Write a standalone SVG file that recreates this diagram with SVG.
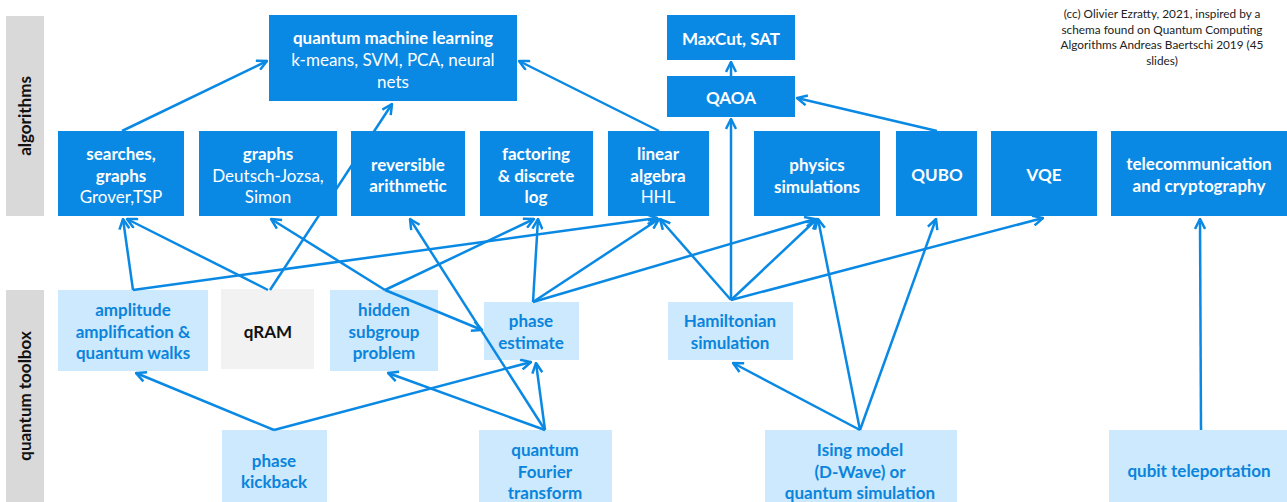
<svg xmlns="http://www.w3.org/2000/svg" width="1287" height="502" viewBox="0 0 1287 502">
<defs>
<style>
.side{fill:#d9d9d9}
.sidet{font-family:Lato,"Liberation Sans",sans-serif;font-weight:bold;font-size:17px;fill:#111;text-anchor:middle}
.dk{fill:#0a89e4}
.lt{fill:#cce9fd}
.gr{fill:#f2f2f2}
.t{font-family:Lato,"Liberation Sans",sans-serif;font-size:17px;text-anchor:middle}
.w{fill:#fff}
.b{font-weight:bold}
.lb{fill:#0a84dc;font-weight:bold}
.k{fill:#111;font-weight:bold}
.cc{font-family:Lato,"Liberation Sans",sans-serif;font-size:11.8px;fill:#222;text-anchor:middle}
.c{fill:none;stroke:#0a89e4;stroke-width:2.5;marker-end:url(#ah)}
</style>
<marker id="ah" viewBox="0 0 12 12" refX="11" refY="6" markerWidth="12" markerHeight="12" markerUnits="userSpaceOnUse" orient="auto">
<path d="M1,1 L11,6 L1,11" fill="none" stroke="#0a89e4" stroke-width="2.5"/>
</marker>
</defs>
<rect width="1287" height="502" fill="#fff"/>

<g id="side-algorithms">
<rect class="side" x="6" y="16" width="38" height="200"/>
<text class="sidet" transform="translate(31,116) rotate(-90)">algorithms</text>
</g>
<g id="side-toolbox">
<rect class="side" x="6" y="290" width="38" height="212"/>
<text class="sidet" transform="translate(31,396) rotate(-90)">quantum toolbox</text>
</g>

<g id="copyright">
<text class="cc" x="1162" y="18">(cc) Olivier Ezratty, 2021, inspired by a</text>
<text class="cc" x="1162" y="34">schema found on Quantum Computing</text>
<text class="cc" x="1162" y="49">Algorithms Andreas Baertschi 2019 (45</text>
<text class="cc" x="1162" y="65">slides)</text>
</g>

<g id="toolbox-light">
<g id="amplitude"><rect class="lt" x="58" y="290" width="150" height="81"/>
<text class="t lb" x="133" y="316">amplitude</text><text class="t lb" x="133" y="338">amplification &amp;</text><text class="t lb" x="133" y="359">quantum walks</text></g>
<g id="qram"><rect class="gr" x="221" y="289" width="93" height="80"/>
<text class="t k" x="268" y="338">qRAM</text></g>
<g id="hidden"><rect class="lt" x="330" y="290" width="108" height="81"/>
<text class="t lb" x="384" y="316">hidden</text><text class="t lb" x="384" y="338">subgroup</text><text class="t lb" x="384" y="359">problem</text></g>
<g id="phase-estimate"><rect class="lt" x="484" y="302" width="95" height="58"/>
<text class="t lb" x="531" y="327">phase</text><text class="t lb" x="531" y="349">estimate</text></g>
<g id="hamiltonian"><rect class="lt" x="668" y="302" width="125" height="58"/>
<text class="t lb" x="730" y="327">Hamiltonian</text><text class="t lb" x="730" y="349">simulation</text></g>
<g id="kickback"><rect class="lt" x="222" y="430" width="105" height="72"/>
<text class="t lb" x="274" y="467">phase</text><text class="t lb" x="274" y="488">kickback</text></g>
<g id="qft"><rect class="lt" x="479" y="430" width="133" height="72"/>
<text class="t lb" x="545" y="456">quantum</text><text class="t lb" x="545" y="478">Fourier</text><text class="t lb" x="545" y="499">transform</text></g>
<g id="ising"><rect class="lt" x="765" y="430" width="192" height="72"/>
<text class="t lb" x="860" y="456">Ising model</text><text class="t lb" x="860" y="478">(D-Wave) or</text><text class="t lb" x="860" y="499">quantum simulation</text></g>
<g id="teleportation"><rect class="lt" x="1109" y="430" width="178" height="72"/>
<text class="t lb" x="1199" y="477">qubit teleportation</text></g>
</g>

<g id="connectors">
<line class="c" x1="122" y1="131" x2="267" y2="61"/>
<line class="c" x1="270" y1="290" x2="392" y2="104"/>
<line class="c" x1="659" y1="131" x2="519" y2="61"/>
<line class="c" x1="731" y1="76" x2="731" y2="62"/>
<line class="c" x1="731" y1="300" x2="731" y2="119"/>
<line class="c" x1="937" y1="131" x2="797" y2="98"/>
<line class="c" x1="133" y1="290" x2="123" y2="219"/>
<line class="c" x1="133" y1="290" x2="657" y2="218"/>
<line class="c" x1="268" y1="290" x2="127" y2="219"/>
<line class="c" x1="385" y1="290" x2="271" y2="219"/>
<line class="c" x1="385" y1="290" x2="534" y2="219"/>
<line class="c" x1="385" y1="290" x2="482" y2="330"/>
<line class="c" x1="533" y1="302" x2="538" y2="219"/>
<line class="c" x1="533" y1="302" x2="659" y2="219"/>
<line class="c" x1="533" y1="302" x2="815" y2="219"/>
<line class="c" x1="731" y1="300" x2="660" y2="219"/>
<line class="c" x1="731" y1="300" x2="817" y2="219"/>
<line class="c" x1="731" y1="300" x2="1043" y2="218"/>
<line class="c" x1="860" y1="430" x2="733" y2="363"/>
<line class="c" x1="860" y1="430" x2="818" y2="219"/>
<line class="c" x1="860" y1="430" x2="936" y2="219"/>
<line class="c" x1="274" y1="430" x2="136" y2="373"/>
<line class="c" x1="274" y1="430" x2="531" y2="362"/>
<line class="c" x1="545" y1="430" x2="536" y2="363"/>
<line class="c" x1="545" y1="430" x2="388" y2="373"/>
<line class="c" x1="545" y1="430" x2="410" y2="219"/>
<line class="c" x1="1201" y1="430" x2="1200" y2="219"/>
</g>

<g id="algorithms-dark">
<g id="qml"><rect class="dk" x="269" y="15" width="248" height="86"/>
<text class="t w b" x="393" y="44">quantum machine learning</text><text class="t w" x="393" y="66">k-means, SVM, PCA, neural</text><text class="t w" x="393" y="88">nets</text></g>
<g id="maxcut"><rect class="dk" x="667" y="15" width="128" height="45"/>
<text class="t w b" x="731" y="45">MaxCut, SAT</text></g>
<g id="qaoa"><rect class="dk" x="667" y="76" width="128" height="41"/>
<text class="t w b" x="731" y="104">QAOA</text></g>
<g id="searches"><rect class="dk" x="58" y="131" width="126" height="85"/>
<text class="t w b" x="121" y="160">searches,</text><text class="t w b" x="121" y="182">graphs</text><text class="t w" x="121" y="203">Grover,TSP</text></g>
<g id="graphs"><rect class="dk" x="199" y="131" width="138" height="85"/>
<text class="t w b" x="268" y="160">graphs</text><text class="t w" x="268" y="182">Deutsch-Jozsa,</text><text class="t w" x="268" y="203">Simon</text></g>
<g id="reversible"><rect class="dk" x="351" y="131" width="114" height="85"/>
<text class="t w b" x="408" y="171">reversible</text><text class="t w b" x="408" y="192">arithmetic</text></g>
<g id="factoring"><rect class="dk" x="480" y="131" width="113" height="85"/>
<text class="t w b" x="536" y="160">factoring</text><text class="t w b" x="536" y="182">&amp; discrete</text><text class="t w b" x="536" y="203">log</text></g>
<g id="linear"><rect class="dk" x="608" y="131" width="101" height="85"/>
<text class="t w b" x="658" y="160">linear</text><text class="t w b" x="658" y="182">algebra</text><text class="t w" x="658" y="203">HHL</text></g>
<g id="physics"><rect class="dk" x="754" y="131" width="126" height="85"/>
<text class="t w b" x="817" y="171">physics</text><text class="t w b" x="817" y="193">simulations</text></g>
<g id="qubo"><rect class="dk" x="896" y="131" width="81" height="85"/>
<text class="t w b" x="937" y="181">QUBO</text></g>
<g id="vqe"><rect class="dk" x="991" y="131" width="106" height="85"/>
<text class="t w b" x="1044" y="181">VQE</text></g>
<g id="telecom"><rect class="dk" x="1111" y="131" width="176" height="85"/>
<text class="t w b" x="1199" y="170">telecommunication</text><text class="t w b" x="1199" y="192">and cryptography</text></g>
</g>
</svg>
